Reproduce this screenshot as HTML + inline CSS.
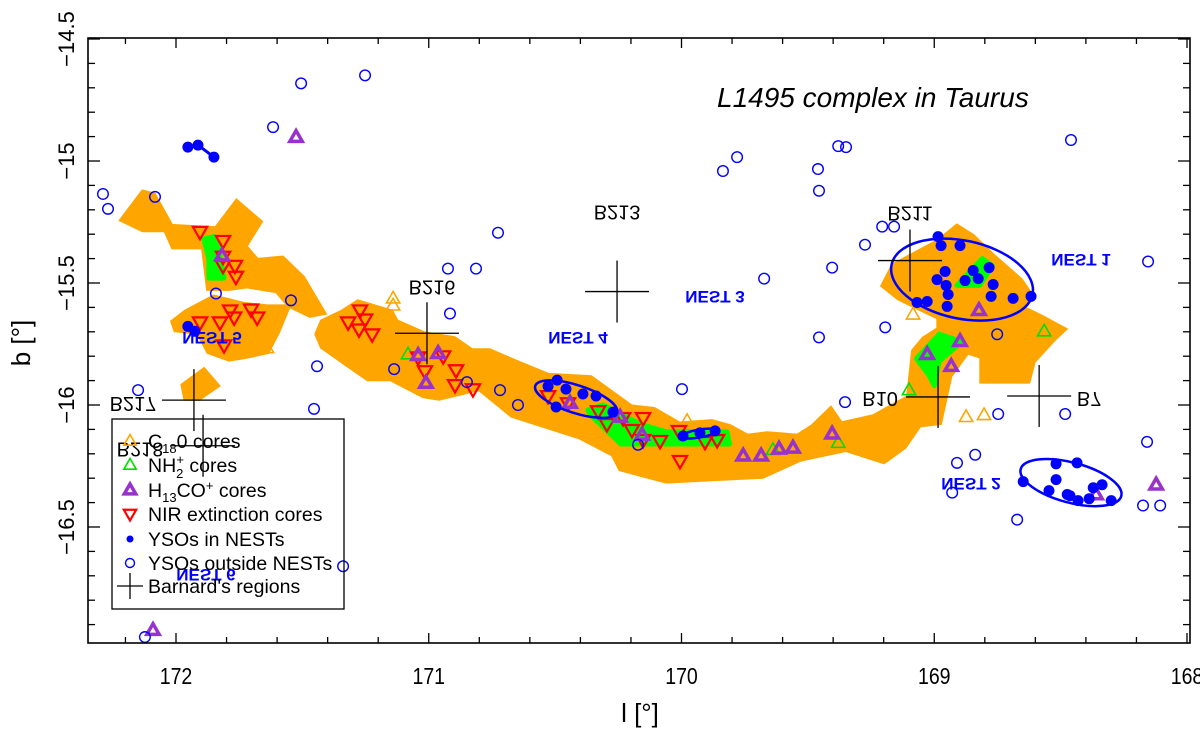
<!DOCTYPE html>
<html><head><meta charset="utf-8"><title>L1495 complex in Taurus</title>
<style>
html,body{margin:0;padding:0;background:#fff;}
svg{display:block;font-family:"Liberation Sans",Arial,sans-serif;}
</style></head>
<body>
<svg id="chart" width="1200" height="731" viewBox="0 0 1200 731" xmlns="http://www.w3.org/2000/svg">
<rect x="0" y="0" width="1200" height="731" fill="#fff"/>
<g id="clouds"></g>
<g id="greens"></g>
<g id="marks"></g>
<g id="axes"></g>
<text x="717" y="107" font-size="28" font-style="italic" fill="#000">L1495 complex in Taurus</text>
<g id="legend"></g>
</svg>
<script>
// ---- axis data ----
const xTicksMajor = [172, 171, 170, 169, 168];
const yTicksMajor = [-14.5, -15, -15.5, -16, -16.5];
const xTickLabels = ["172", "171", "170", "169", "168"];
const yTickLabels = ["\u221214.5", "\u221215", "\u221215.5", "\u221216", "\u221216.5"];

// ---- series data (l, b in degrees) ----
const ysoOutL = [172.289,172.269,171.616,171.505,171.252,172.083,171.842,171.545,170.813,171.442,171.137,170.916,170.849,171.454,172.150,170.726,170.924,170.718,170.647,169.998,170.172,169.456,169.194,169.353,169.274,169.206,169.159,168.751,168.747,168.482,168.910,168.838,168.929,168.158,168.154,168.174,168.106,168.672,169.836,169.780,169.673,169.460,169.456,169.380,169.349,169.404,168.459,172.123,171.339];
const ysoOutB = [-15.135,-15.196,-14.861,-14.682,-14.649,-15.147,-15.543,-15.571,-15.441,-15.841,-15.853,-15.625,-15.906,-16.016,-15.939,-15.294,-15.441,-15.939,-16.000,-15.935,-16.163,-15.723,-15.682,-15.988,-15.343,-15.269,-15.269,-15.710,-16.037,-16.037,-16.237,-16.204,-16.359,-16.151,-15.412,-16.412,-16.412,-16.470,-15.041,-14.984,-15.482,-15.033,-15.122,-14.939,-14.943,-15.437,-14.914,-16.951,-16.661];

const ysoInL = [171.953,171.913,171.850,171.953,171.925,170.492,170.528,170.457,170.390,170.338,170.496,170.271,169.994,169.927,169.867,168.985,168.973,168.898,168.957,168.989,168.953,168.945,168.949,169.068,169.028,168.846,168.783,168.767,168.775,168.688,168.617,168.878,168.826,168.648,168.518,168.435,168.518,168.546,168.474,168.431,168.371,168.336,168.387,168.300,168.463];
const ysoInB = [-14.943,-14.935,-14.984,-15.678,-15.698,-15.898,-15.923,-15.935,-15.955,-15.963,-16.008,-16.029,-16.127,-16.114,-16.106,-15.310,-15.347,-15.347,-15.453,-15.486,-15.510,-15.547,-15.596,-15.580,-15.576,-15.449,-15.437,-15.506,-15.555,-15.563,-15.555,-15.490,-15.482,-16.314,-16.241,-16.237,-16.306,-16.351,-16.367,-16.392,-16.339,-16.327,-16.384,-16.392,-16.372];

// NEST ellipses: centre l,b ; semi-axes (deg) ; tilt (deg)
const nestL = [168.890, 168.459, 170.417, 169.930];
const nestB = [-15.486, -16.318, -15.976, -16.117];
const nestA = [0.285, 0.206, 0.170, 0.072];
const nestBB = [0.160, 0.082, 0.057, 0.016];
const nestTilt = [12, 15, 18, -10];

const h13L = [171.525,171.818,171.042,170.963,171.011,168.122,172.091,169.756,169.685,169.614,169.559,169.404,170.441,168.823,168.898,169.028,168.933,168.360,170.156,170.243];
const h13B = [-14.902,-15.388,-15.796,-15.788,-15.910,-16.327,-16.923,-16.208,-16.208,-16.180,-16.176,-16.118,-15.992,-15.612,-15.739,-15.792,-15.841,-16.367,-16.123,-16.049];

const nh2L = [168.565,169.100,171.082,169.380,169.638];
const nh2B = [-15.698,-15.939,-15.792,-16.155,-16.184];

const c18L = [169.084,168.874,168.803,171.141,171.141,171.640,169.978];
const c18B = [-15.629,-16.049,-16.041,-15.592,-15.563,-15.767,-16.065];

const nirL = [171.905,171.814,171.814,171.814,171.767,171.763,171.786,171.770,171.703,171.679,171.905,171.826,171.810,171.319,171.272,171.252,171.276,171.224,171.042,170.943,171.015,170.892,170.896,170.825,170.528,170.449,170.330,170.295,170.231,170.196,170.152,170.152,170.085,170.006,170.010,169.907,169.859];
const nirB = [-15.290,-15.327,-15.392,-15.429,-15.429,-15.474,-15.612,-15.641,-15.608,-15.641,-15.661,-15.661,-15.755,-15.661,-15.612,-15.649,-15.690,-15.710,-15.804,-15.800,-15.861,-15.857,-15.918,-15.935,-15.963,-15.992,-16.025,-16.078,-16.053,-16.102,-16.053,-16.143,-16.147,-16.229,-16.106,-16.151,-16.143];

const barnardNames = ["B211","B213","B216","B217","B218","B10","B7"];
const barnardL = [169.096,170.255,171.007,171.929,171.893,168.985,168.585];
const barnardB = [-15.408,-15.535,-15.706,-15.980,-16.167,-15.967,-15.963];

// cloud extents (C18O core coverage), l and b vertex lists
const cloudAL = [172.21,172.13,172.09,172.02,171.84,171.76,171.67,171.73,171.68,171.58,171.50,171.42,171.47,171.55,171.60,171.72,171.79,171.87,171.89,172.01,172.04,172.13];
const cloudAB = [-15.24,-15.13,-15.14,-15.27,-15.28,-15.17,-15.25,-15.35,-15.41,-15.40,-15.48,-15.62,-15.63,-15.59,-15.53,-15.51,-15.52,-15.52,-15.35,-15.35,-15.28,-15.28];
const cloudBL = [172.01,171.96,171.85,171.73,171.64,171.56,171.60,171.64,171.73,171.79,171.87,171.91,172.00];
const cloudBB = [-15.66,-15.62,-15.56,-15.59,-15.60,-15.60,-15.70,-15.78,-15.80,-15.81,-15.78,-15.70,-15.69];
const cloudCL = [171.97,171.89,171.84,171.91,171.96];
const cloudCB = [-15.92,-15.86,-15.92,-15.97,-15.97];
const cloudML = [171.44,171.42,171.34,171.28,171.15,171.13,171.02,170.90,170.83,170.76,170.67,170.53,170.36,170.20,170.11,170.06,170.01,169.88,169.81,169.74,169.66,169.54,169.48,169.41,169.37,169.24,169.17,169.10,169.08,169.04,168.98,168.98,169.06,169.14,169.20,169.16,168.98,168.91,168.85,168.77,168.66,168.62,168.66,168.58,168.49,168.53,168.61,168.63,168.81,168.81,168.87,168.94,168.98,169.06,169.12,169.20,169.29,169.35,169.53,169.68,169.88,170.06,170.24,170.27,170.40,170.67,170.80,170.96,171.02,171.15,171.24,171.31,171.42];
const cloudMB = [-15.71,-15.66,-15.62,-15.58,-15.62,-15.66,-15.71,-15.73,-15.78,-15.78,-15.82,-15.88,-15.89,-16.01,-16.02,-16.05,-16.08,-16.07,-16.09,-16.13,-16.12,-16.13,-16.09,-16.02,-16.08,-16.05,-16.01,-15.97,-15.78,-15.73,-15.69,-15.64,-15.60,-15.56,-15.51,-15.43,-15.33,-15.27,-15.31,-15.39,-15.49,-15.55,-15.60,-15.64,-15.69,-15.73,-15.82,-15.90,-15.90,-15.80,-15.78,-15.88,-16.07,-16.08,-16.17,-16.23,-16.20,-16.18,-16.22,-16.29,-16.30,-16.31,-16.26,-16.20,-16.13,-16.04,-15.93,-15.97,-15.96,-15.89,-15.89,-15.84,-15.76];

const greenAL = [171.89,171.85,171.83,171.81,171.87,171.87];
const greenAB = [-15.32,-15.31,-15.36,-15.48,-15.48,-15.40];
const greenBL = [168.91,168.81,168.77,168.82];
const greenBB = [-15.51,-15.40,-15.43,-15.51];
const greenCL = [169.07,168.98,168.89,168.98,169.00,169.02];
const greenCB = [-15.81,-15.71,-15.74,-15.82,-15.92,-15.88];
const greenDL = [170.37,170.31,170.16,170.06,169.82,169.81,170.06,170.24,170.36];
const greenDB = [-16.02,-16.00,-16.08,-16.11,-16.11,-16.16,-16.16,-16.16,-16.04];

// ---- axis functions ----
const PX0 = 88, PX1 = 1190, PY0 = 38, PY1 = 643;
function X(l){ return 176 + (172 - l) * 252.75; }
function Y(b){ return 161 + (-15 - b) * 244; }

const NS = "http://www.w3.org/2000/svg";
function mk(tag, attrs, parent){
  const e = document.createElementNS(NS, tag);
  for (const k in attrs) e.setAttribute(k, attrs[k]);
  parent.appendChild(e);
  return e;
}
const clouds = document.getElementById('clouds');
const greens = document.getElementById('greens');
const marks = document.getElementById('marks');
const axes = document.getElementById('axes');
const legend = document.getElementById('legend');

function polyPts(ls, bs){ return ls.map((l,i)=>X(l).toFixed(1)+','+Y(bs[i]).toFixed(1)).join(' '); }

[[cloudAL,cloudAB],[cloudBL,cloudBB],[cloudCL,cloudCB],[cloudML,cloudMB]].forEach(function(p){
  const e = mk('polygon', {points: polyPts(p[0],p[1]), fill:'#FFA500', stroke:'#FFA500', 'stroke-width':6, 'stroke-linejoin':'miter'}, clouds);
  
  
});
[[greenAL,greenAB],[greenBL,greenBB],[greenCL,greenCB],[greenDL,greenDB]].forEach(function(p){
  const e = mk('polygon', {points: polyPts(p[0],p[1]), fill:'#00FF00', stroke:'#00FF00', 'stroke-width':5, 'stroke-linejoin':'round'}, greens);
  
  
});

function upTri(x,y,s){ return (x)+','+(y-s)+' '+(x-s*0.95)+','+(y+s*0.65)+' '+(x+s*0.95)+','+(y+s*0.65); }
function downTri(x,y,s){ return (x)+','+(y+s)+' '+(x-s*0.95)+','+(y-s*0.65)+' '+(x+s*0.95)+','+(y-s*0.65); }

c18L.forEach(function(l,i){
  const e = mk('polygon', {points: upTri(X(l),Y(c18B[i]),7), fill:'none', stroke:'#FFA500', 'stroke-width':1.6}, marks);
  
  
});
nh2L.forEach(function(l,i){
  const e = mk('polygon', {points: upTri(X(l),Y(nh2B[i]),7), fill:'none', stroke:'#00DD00', 'stroke-width':1.6}, marks);
  
  
});
nirL.forEach(function(l,i){
  const e = mk('polygon', {points: downTri(X(l),Y(nirB[i]),7.5), fill:'none', stroke:'#FF0000', 'stroke-width':2.2}, marks);
  
  
});
h13L.forEach(function(l,i){
  const e = mk('polygon', {points: upTri(X(l),Y(h13B[i]),6.5), fill:'none', stroke:'#9932CC', 'stroke-width':3.5, 'stroke-linejoin':'miter'}, marks);
  
  
});
ysoOutL.forEach(function(l,i){
  const e = mk('circle', {cx:X(l), cy:Y(ysoOutB[i]), r:5.3, fill:'none', stroke:'#0000FF', 'stroke-width':1.4}, marks);
  
  
});
{
  const e = mk('polyline', {points: polyPts(ysoInL.slice(0,3), ysoInB.slice(0,3)), fill:'none', stroke:'#0000FF', 'stroke-width':3}, marks);
  
  
}
nestL.forEach(function(l,i){
  const cx = X(l), cy = Y(nestB[i]);
  const e = mk('ellipse', {cx:cx, cy:cy, rx:nestA[i]*252.75, ry:nestBB[i]*244, transform:'rotate('+nestTilt[i]+' '+cx+' '+cy+')', fill:'none', stroke:'#0000FF', 'stroke-width':2.5}, marks);
  
  
});
ysoInL.forEach(function(l,i){
  const e = mk('circle', {cx:X(l), cy:Y(ysoInB[i]), r:5.5, fill:'#0000FF'}, marks);
  
  
});
// Barnard crosses
const barnardLabelDx = [0, 0, 5, -61, -63, -58, 50];
const barnardLabelDy = [-48, -80, -47, 3, 3, 1, 2];
barnardNames.forEach(function(n,i){
  const x = X(barnardL[i]), y = Y(barnardB[i]);
  const g = mk('g', {}, marks);
  
  
  mk('line', {x1:x-32, y1:y, x2:x+32, y2:y, stroke:'#000', 'stroke-width':1.3}, g);
  mk('line', {x1:x, y1:y-31, x2:x, y2:y+31, stroke:'#000', 'stroke-width':1.3}, g);
  const t = mk('text', {transform:'translate('+(x+barnardLabelDx[i])+','+(y+barnardLabelDy[i]-6)+') scale(1,-1)', 'text-anchor':'middle', 'font-size':20, fill:'#000'}, g);
  t.textContent = n;
});
// NEST labels (vertically mirrored)
const nestNames = ["NEST 1","NEST 2","NEST 3","NEST 4","NEST 5","NEST 6"];
const nestLabelPos = [[1081,254],[971,478],[715,291],[578,332],[212,332],[206,569]];
nestNames.forEach(function(n,i){
  const t = mk('text', {transform:'translate('+nestLabelPos[i][0]+','+nestLabelPos[i][1]+') scale(1,-1)', 'text-anchor':'middle', 'font-size':17, 'font-weight':'bold', fill:'#0000FF'}, marks);
  
  
  t.textContent = n;
});

// ---- axes ----
{
  const f = mk('rect', {x:PX0, y:PY0, width:PX1-PX0, height:PY1-PY0, fill:'none', stroke:'#000', 'stroke-width':1.6}, axes);
  
  
}
for (let k = 0; k <= 22; k++){
  const l = 172.4 - k*0.2;
  const x = X(l);
  if (x < PX0 + 1 || x > PX1 - 1) continue;
  const major = Math.abs(l - Math.round(l)) < 1e-6;
  const len = major ? 10 : 6;
  const t1 = mk('line', {x1:x, y1:PY1, x2:x, y2:PY1-len, stroke:'#000', 'stroke-width':1.3}, axes);
  
  
  const t2 = mk('line', {x1:x, y1:PY0, x2:x, y2:PY0+len, stroke:'#000', 'stroke-width':1.3}, axes);
  
  
}
for (let k = 0; k <= 26; k++){
  const b = -14.5 - k*0.1;
  const y = Y(b);
  if (y > PY1 - 1) continue;
  const major = Math.abs(b*2 - Math.round(b*2)) < 1e-6;
  const len = major ? 12 : 7;
  const t1 = mk('line', {x1:PX0, y1:y, x2:PX0+len, y2:y, stroke:'#000', 'stroke-width':1.3}, axes);
  
  
  const t2 = mk('line', {x1:PX1, y1:y, x2:PX1-len, y2:y, stroke:'#000', 'stroke-width':1.3}, axes);
  
  
}
xTicksMajor.forEach(function(l,i){
  const t = mk('text', {transform:'translate('+X(l)+',684) scale(0.85,1)', 'text-anchor':'middle', 'font-size':23, fill:'#000'}, axes);
  
  
  t.textContent = xTickLabels[i];
});
yTicksMajor.forEach(function(b,i){
  const y = Y(b);
  const t = mk('text', {transform:'translate(74,'+y+') rotate(-90)', 'text-anchor':'middle', 'font-size':22, fill:'#000'}, axes);
  
  
  t.textContent = yTickLabels[i];
});
{
  const t = mk('text', {x:640, y:722, 'text-anchor':'middle', 'font-size':26, fill:'#000'}, axes);
  
  
  t.textContent = 'l [\u00b0]';
  const t2 = mk('text', {transform:'translate(30,343) rotate(-90)', 'text-anchor':'middle', 'font-size':26, fill:'#000'}, axes);
  
  
  t2.textContent = 'b [\u00b0]';
}

// ---- legend ----
{
  const box = mk('rect', {x:112, y:419, width:232, height:190, fill:'none', stroke:'#000', 'stroke-width':1.3}, legend);
  
  
  const rows = [441, 465, 490, 514, 539, 563, 586];
  const sx = 130, tx = 148;
  function entry(name){
    const g = mk('g', {}, legend);
    
    
    return g;
  }
  let g = entry('legend-entry-c18o');
  mk('polygon', {points: upTri(sx, rows[0], 6.5), fill:'none', stroke:'#FFA500', 'stroke-width':1.6}, g);
  let t = mk('text', {x:tx, y:rows[0]+7, 'font-size':19.5}, g);
  t.innerHTML = 'C<tspan font-size="13" dy="5">18</tspan><tspan dy="-5">0 cores</tspan>';
  g = entry('legend-entry-nh2');
  mk('polygon', {points: upTri(sx, rows[1], 6.5), fill:'none', stroke:'#00DD00', 'stroke-width':1.6}, g);
  t = mk('text', {x:tx, y:rows[1]+7, 'font-size':19.5}, g);
  t.innerHTML = 'NH<tspan font-size="13" dy="6">2</tspan><tspan font-size="13" dx="-7" dy="-14">+</tspan><tspan dy="8"> cores</tspan>';
  g = entry('legend-entry-h13co');
  mk('polygon', {points: upTri(sx, rows[2], 6), fill:'none', stroke:'#9932CC', 'stroke-width':3.5}, g);
  t = mk('text', {x:tx, y:rows[2]+7, 'font-size':19.5}, g);
  t.innerHTML = 'H<tspan font-size="13" dy="5">13</tspan><tspan dy="-5">CO</tspan><tspan font-size="13" dy="-7">+</tspan><tspan dy="7"> cores</tspan>';
  g = entry('legend-entry-nir');
  mk('polygon', {points: downTri(sx, rows[3], 6.5), fill:'none', stroke:'#FF0000', 'stroke-width':2.2}, g);
  t = mk('text', {x:tx, y:rows[3]+7, 'font-size':19.5}, g);
  t.textContent = 'NIR extinction cores';
  g = entry('legend-entry-yso-in');
  mk('circle', {cx:sx, cy:rows[4], r:3.5, fill:'#0000FF'}, g);
  t = mk('text', {x:tx, y:rows[4]+7, 'font-size':19.5}, g);
  t.textContent = 'YSOs in NESTs';
  g = entry('legend-entry-yso-out');
  mk('circle', {cx:sx, cy:rows[5], r:4.5, fill:'none', stroke:'#0000FF', 'stroke-width':1.4}, g);
  t = mk('text', {x:tx, y:rows[5]+7, 'font-size':19.5}, g);
  t.textContent = 'YSOs outside NESTs';
  g = entry('legend-entry-barnard');
  mk('line', {x1:sx-13, y1:rows[6], x2:sx+13, y2:rows[6], stroke:'#000', 'stroke-width':1.3}, g);
  mk('line', {x1:sx, y1:rows[6]-13, x2:sx, y2:rows[6]+13, stroke:'#000', 'stroke-width':1.3}, g);
  t = mk('text', {x:tx, y:rows[6]+7, 'font-size':19.5}, g);
  t.textContent = "Barnard's regions";
}
</script>
</body></html>
